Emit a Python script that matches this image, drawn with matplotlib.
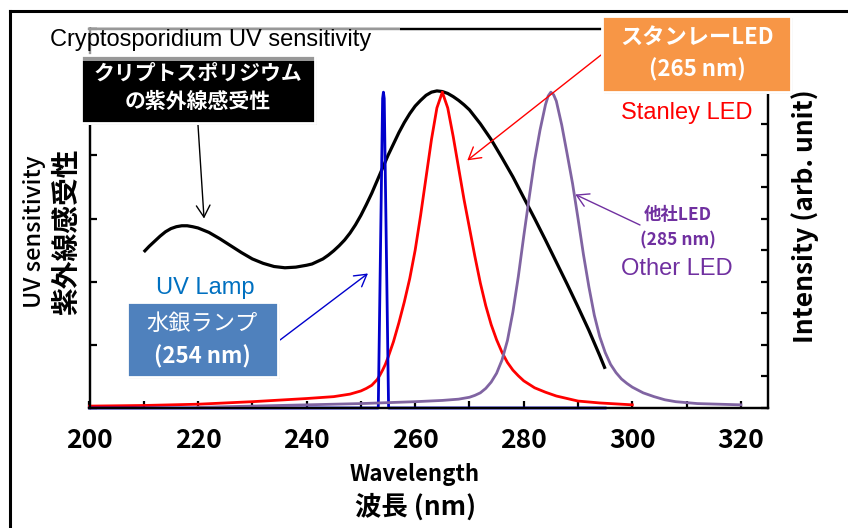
"""Cryptosporidium UV sensitivity vs. UV source emission spectra."""

import numpy as np
import matplotlib
matplotlib.use("Agg")
import matplotlib.pyplot as plt  # noqa: E402
from matplotlib.patches import Rectangle  # noqa: E402
from matplotlib.lines import Line2D  # noqa: E402

# ---------------------------------------------------------------------------
# Data
# ---------------------------------------------------------------------------

# Cryptosporidium UV sensitivity (left axis units)
crypto_wl = [210, 211, 212, 213, 214, 215, 216, 217, 218, 219, 220, 222, 224,
             226, 228, 230, 232, 234, 236, 238, 240, 241, 242, 243, 244, 245,
             246, 247, 248, 249, 250, 251, 252, 253, 254, 255, 256, 257, 258,
             259, 260, 261, 262, 263, 264, 265, 266, 267, 268, 269, 270, 272,
             274, 276, 278, 280, 282, 284, 286, 288, 290, 292, 294, 295]
crypto_val = [2.47, 2.56, 2.64, 2.72, 2.79, 2.84, 2.87, 2.885, 2.885, 2.87,
              2.85, 2.78, 2.68, 2.57, 2.46, 2.36, 2.29, 2.24, 2.22, 2.23, 2.26,
              2.28, 2.32, 2.36, 2.42, 2.49, 2.57, 2.66, 2.77, 2.90, 3.05, 3.22,
              3.40, 3.60, 3.80, 4.00, 4.18, 4.36, 4.52, 4.66, 4.78, 4.87, 4.95,
              5.00, 5.02, 5.01, 4.98, 4.93, 4.87, 4.80, 4.72, 4.50, 4.25, 3.96,
              3.66, 3.33, 3.00, 2.66, 2.31, 1.96, 1.60, 1.23, 0.83, 0.62]

# Stanley LED (265 nm)
stanley_wl = [200, 210, 220, 230, 240, 245, 248, 250, 251, 252, 253, 253.5,
              254, 254.5, 255, 256, 257, 258, 259, 260, 261, 262, 263, 264,
              265, 266, 267, 268, 269, 270, 271, 272, 273, 274, 275, 276, 277,
              278, 279, 280, 282, 284, 286, 288, 290, 294, 300]
stanley_val = [0.03, 0.04, 0.06, 0.10, 0.15, 0.18, 0.22, 0.27, 0.31, 0.36,
               0.45, 0.52, 0.60, 0.69, 0.80, 1.05, 1.35, 1.68, 2.05, 2.50,
               3.05, 3.65, 4.25, 4.75, 5.00, 4.75, 4.30, 3.80, 3.30, 2.85,
               2.40, 1.98, 1.62, 1.32, 1.08, 0.88, 0.72, 0.60, 0.51, 0.43,
               0.32, 0.25, 0.19, 0.15, 0.11, 0.08, 0.05]

# Mercury lamp (254 nm)
lamp_wl = [200, 253.2, 254.0, 254.15, 254.3, 255.1, 295]
lamp_val = [0.0, 0.0, 4.9, 5.0, 4.9, 0.0, 0.0]

# Other company's LED (285 nm)
other_wl = [220, 230, 240, 250, 260, 265, 268, 270, 271, 272, 273, 274, 275,
            276, 277, 278, 279, 280, 281, 282, 283, 284, 284.5, 285, 285.5,
            286, 287, 288, 289, 290, 291, 292, 293, 294, 295, 296, 297, 298,
            299, 300, 302, 304, 306, 308, 312, 316, 320]
other_val = [0.01, 0.03, 0.05, 0.07, 0.10, 0.12, 0.14, 0.17, 0.20, 0.24, 0.31,
             0.41, 0.55, 0.76, 1.07, 1.52, 2.08, 2.72, 3.33, 3.92, 4.40, 4.80,
             4.94, 5.00, 4.96, 4.86, 4.48, 4.02, 3.55, 3.00, 2.43, 1.92, 1.47,
             1.13, 0.88, 0.69, 0.56, 0.46, 0.39, 0.33, 0.24, 0.18, 0.13, 0.10,
             0.07, 0.06, 0.05]

x_ticks = [200, 220, 240, 260, 280, 300, 320]

# ---------------------------------------------------------------------------
# Style
# ---------------------------------------------------------------------------

W, H = 848, 528
JP = ["Noto Sans CJK JP", "DejaVu Sans"]
ARIAL = ["Liberation Sans", "DejaVu Sans"]

C_CRYPTO = "black"
C_STANLEY = "#ff0000"
C_LAMP = "#0000cc"
C_OTHER = "#8064a2"
C_OTHER_TXT = "#7030a0"


def fx(px):
    return px / W


def fy(py):
    return 1 - py / H


def box(fig, x0, y0, x1, y1, color, z=5):
    """Filled rectangle given in image pixels (origin top-left)."""
    shadow = Rectangle((fx(x0 + 2), fy(y1 + 2)), fx(x1 - x0), (y1 - y0) / H,
                       transform=fig.transFigure, facecolor="#c8c8c8",
                       edgecolor="none", zorder=z - 0.2)
    rect = Rectangle((fx(x0), fy(y1)), fx(x1 - x0), (y1 - y0) / H,
                     transform=fig.transFigure, facecolor=color,
                     edgecolor="white", linewidth=2.0, zorder=z)
    fig.patches.extend([shadow, rect])


fig = plt.figure(figsize=(W / 100, H / 100), dpi=100)
ax = fig.add_axes([fx(89.5), fy(408), fx(768 - 89.5), (408 - 29) / H])

ax.plot(crypto_wl, crypto_val, color=C_CRYPTO, lw=2.3, solid_capstyle="butt",
        clip_on=False, zorder=3)
ax.plot(stanley_wl, stanley_val, color=C_STANLEY, lw=2.0, clip_on=False, zorder=4)
ax.plot(lamp_wl, lamp_val, color=C_LAMP, lw=2.0, clip_on=False, zorder=5)
ax.plot(other_wl, other_val, color=C_OTHER, lw=2.0, clip_on=False, zorder=6)

ax.set_xlim(200, 325)
ax.set_ylim(0, 6)
ax.set_xticks(x_ticks)
ax.set_xticks(np.arange(210, 325, 20), minor=True)
ax.set_yticks(np.arange(0, 7, 1))
ax.set_yticklabels([])
ax.tick_params(axis="x", which="both", direction="in", length=5, width=1.6,
               pad=14)
ax.tick_params(axis="y", direction="in", length=5, width=1.6)
for lab in ax.get_xticklabels():
    lab.set_fontfamily(JP)
    lab.set_fontweight("bold")
    lab.set_fontsize(19)
for sp in ax.spines.values():
    sp.set_linewidth(1.6)

ax2 = ax.twinx()
ax2.set_ylim(0, 12)
ax2.set_yticks(np.arange(0, 13, 1))
ax2.set_yticklabels([])
ax2.tick_params(axis="y", direction="in", length=5, width=1.6)
for sp in ax2.spines.values():
    sp.set_linewidth(1.6)

# outer frame (top and left edges visible)
fig.lines.append(Line2D([fx(10), fx(10)], [0, fy(11)], transform=fig.transFigure,
                        color="black", lw=2.2))
fig.lines.append(Line2D([fx(10), 1], [fy(11), fy(11)], transform=fig.transFigure,
                        color="black", lw=2.2))

# ---------------------------------------------------------------------------
# Axis titles
# ---------------------------------------------------------------------------

fig.text(fx(415), fy(474), "Wavelength", family=JP, weight="bold", fontsize=16,
         ha="center", va="center")
fig.text(fx(416), fy(507), "波長 (nm)", family=JP, weight="bold", fontsize=19,
         ha="center", va="center")
fig.text(fx(35), fy(232), "UV sensitivity", family=JP, weight="medium",
         fontsize=17, rotation=90, ha="center", va="center")
fig.text(fx(67), fy(232), "紫外線感受性", family=JP, weight="bold", fontsize=20,
         rotation=90, ha="center", va="center")
fig.text(fx(805), fy(216), "Intensity (arb. unit)", family=JP, weight="bold",
         fontsize=19, rotation=90, ha="center", va="center")

# ---------------------------------------------------------------------------
# Callout boxes and labels
# ---------------------------------------------------------------------------

box(fig, 81, 55, 315, 123, "black")
fig.text(fx(198), fy(73), "クリプトスポリジウム", family=JP, weight="bold",
         fontsize=15, color="white", ha="center", va="center", zorder=7)
fig.text(fx(198), fy(102), "の紫外線感受性", family=JP, weight="bold",
         fontsize=15, color="white", ha="center", va="center", zorder=7)

# semi-transparent title box laid over the top spine and the black box
fig.patches.append(Rectangle((fx(40), fy(61)), fx(360), 33 / H,
                             transform=fig.transFigure, facecolor="white",
                             alpha=0.6, edgecolor="none", zorder=8))
fig.text(fx(50), fy(40), "Cryptosporidium UV sensitivity", family=ARIAL,
         fontsize=17, ha="left", va="center", zorder=9)

box(fig, 602, 16, 791, 92, "#f79646")
fig.text(fx(697), fy(38), "スタンレーLED", family=JP, weight="bold", fontsize=16,
         color="white", ha="center", va="center", zorder=7)
fig.text(fx(697), fy(70), "(265 nm)", family=JP, weight="bold", fontsize=16,
         color="white", ha="center", va="center", zorder=7)
fig.text(fx(687), fy(113), "Stanley LED", family=ARIAL, fontsize=17,
         color=C_STANLEY, ha="center", va="center")

box(fig, 127, 302, 278, 377, "#4f81bd")
fig.text(fx(202), fy(323), "水銀ランプ", family=JP, fontsize=16,
         color="white", ha="center", va="center", zorder=7)
fig.text(fx(202), fy(357), "(254 nm)", family=JP, weight="bold", fontsize=16,
         color="white", ha="center", va="center", zorder=7)
fig.text(fx(205), fy(288), "UV Lamp", family=ARIAL, fontsize=17,
         color="#0070c0", ha="center", va="center")

fig.text(fx(678), fy(215), "他社LED", family=JP, weight="bold", fontsize=12.5,
         color=C_OTHER_TXT, ha="center", va="center")
fig.text(fx(678), fy(240), "(285 nm)", family=JP, weight="bold", fontsize=12.5,
         color=C_OTHER_TXT, ha="center", va="center")
fig.text(fx(677), fy(269), "Other LED", family=ARIAL, fontsize=17,
         color=C_OTHER_TXT, ha="center", va="center")

# arrows: tip on the curve (data), tail on the label (image pixels)
arrows = [
    ((221.1, 3.00), (198, 125), "black"),
    ((269.6, 3.92), (601, 55), C_STANLEY),
    ((251.3, 2.13), (280, 340), C_LAMP),
    ((289.5, 3.38), (640, 225), C_OTHER_TXT),
]
for tip, tail, col in arrows:
    ax.annotate("", xy=tip, xycoords="data",
                xytext=(fx(tail[0]), fy(tail[1])), textcoords="figure fraction",
                arrowprops=dict(arrowstyle="->,head_length=0.6,head_width=0.35",
                                color=col, lw=1.0, shrinkA=0, shrinkB=0,
                                mutation_scale=14),
                annotation_clip=False, zorder=10)

fig.savefig("out.png", dpi=100)
